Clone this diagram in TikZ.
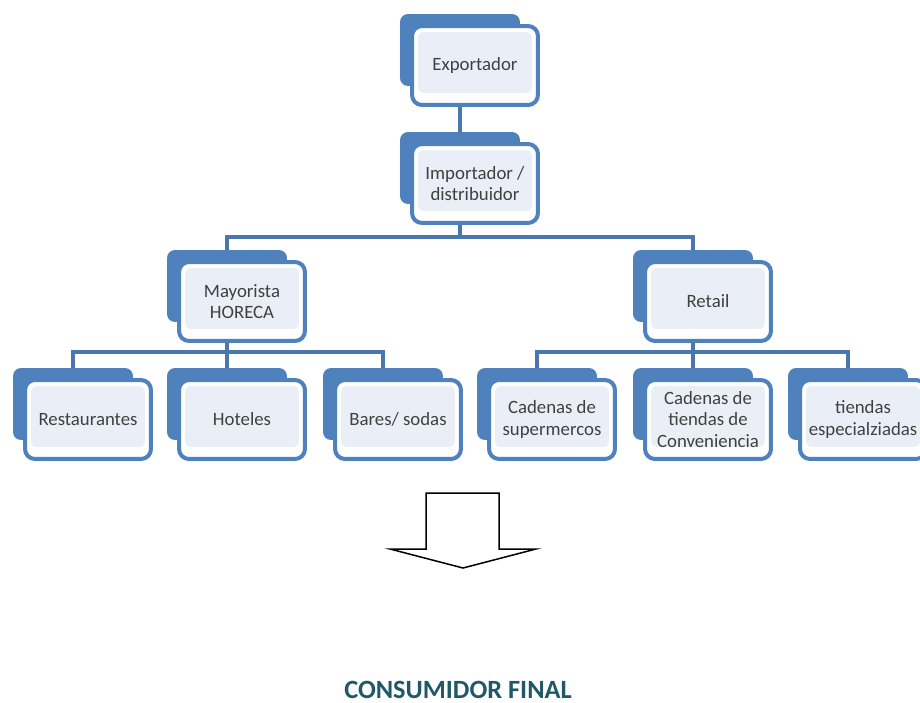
\documentclass[tikz,border=0pt]{standalone}
\usepackage{fontspec}
\setmainfont{Carlito}
\usetikzlibrary{backgrounds}

\definecolor{boxblue}{HTML}{4F81BD}
\definecolor{linkblue}{HTML}{4A78AE}
\definecolor{innerfill}{HTML}{EAEFF7}
\definecolor{textgray}{HTML}{404040}
\definecolor{endteal}{HTML}{215868}

\tikzset{
  back/.style={rectangle, fill=boxblue, rounded corners=0.16cm, inner sep=0pt,
    minimum width=2.4cm, minimum height=1.44cm},
  front/.style={rectangle, draw=boxblue, line width=0.08cm, fill=white,
    rounded corners=0.2cm, inner sep=0pt, align=center, text=textgray,
    minimum width=2.52cm, minimum height=1.58cm,
    font=\fontsize{10.7}{12}\selectfont,
    path picture={\fill[innerfill, rounded corners=0.12cm]
      ([shift={(0.12cm,0.24cm)}]path picture bounding box.south west) rectangle
      ([shift={(-0.12cm,-0.12cm)}]path picture bounding box.north east);}},
  link/.style={draw=linkblue, line width=0.09cm}
}

\begin{document}
\begin{tikzpicture}[x=0.02cm, y=-0.02cm]
  \useasboundingbox (0,0) rectangle (920,703);
  % levels of the horizontal bars
  \coordinate (lvl1) at (0,237);
  \coordinate (lvl2) at (0,352);
  % back plates
  \node[back] (exp) at (460,50) {};
  \node[back] (imp) at (460,168) {};
  \node[back] (may) at (227,286) {};
  \node[back] (ret) at (693,286) {};
  \node[back] (res) at (73,404) {};
  \node[back] (hot) at (227,404) {};
  \node[back] (bar) at (383,404) {};
  \node[back] (sup) at (537,404) {};
  \node[back] (con) at (693,404) {};
  \node[back] (esp) at (848,404) {};
  % front boxes with the texts
  \node[front] (expf) at (475,65.5) {Exportador};
  \node[front] (impf) at (475,183.5) {Importador /\\distribuidor};
  \node[front] (mayf) at (242,301.5) {Mayorista\\HORECA};
  \node[front] (retf) at (708,301.5) {Retail};
  \node[front] (resf) at (88,419.5) {Restaurantes};
  \node[front] (hotf) at (242,419.5) {Hoteles};
  \node[front] (barf) at (398,419.5) {Bares/ sodas};
  \node[front] (supf) at (552,419.5) {Cadenas de\\supermercos};
  \node[front] (conf) at (708,419.5) {Cadenas de\\tiendas de\\Conveniencia};
  \node[front] (espf) at (863,419.5) {tiendas\\especialziadas};
  % connectors behind the boxes
  \begin{pgfonlayer}{background}
    \draw[link] (exp) -- (imp);
    \draw[link] (imp) -- (imp |- lvl1);
    \draw[link] (may) |- (lvl1 -| imp) -| (ret);
    \draw[link] (may) -- (may |- lvl2);
    \draw[link] (res) |- (lvl2 -| may) -| (bar);
    \draw[link] (hot) -- (hot |- lvl2);
    \draw[link] (ret) -- (ret |- lvl2);
    \draw[link] (sup) |- (lvl2 -| ret) -| (esp);
    \draw[link] (con) -- (con |- lvl2);
  \end{pgfonlayer}
  % block arrow
  \draw[line width=0.03cm, fill=white] (426,493) -- (499,493) -- (499,549)
    -- (536,549) -- (463,568) -- (390,549) -- (426,549) -- cycle;
  \node[inner sep=0pt, text=endteal, font=\fontsize{15}{18}\selectfont\bfseries] (fin) at (458,690) {CONSUMIDOR FINAL};
\end{tikzpicture}
\end{document}
